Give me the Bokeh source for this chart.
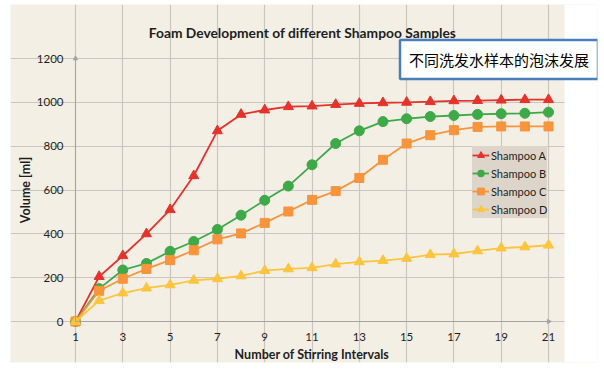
from bokeh.plotting import figure
from bokeh.models import Range1d, Legend, Label, BoxAnnotation, Arrow, NormalHead, FixedTicker
from bokeh.embed import file_html
from bokeh.resources import INLINE

intervals = list(range(1, 22))
shampoo_a = [0, 205, 300, 400, 510, 665, 870, 945, 965, 980, 983, 990, 995, 998, 1000, 1003, 1007, 1008, 1010, 1012, 1012]
shampoo_b = [0, 150, 235, 265, 320, 365, 420, 485, 553, 618, 715, 812, 870, 912, 925, 935, 940, 945, 948, 950, 955]
shampoo_c = [0, 140, 195, 240, 280, 325, 375, 402, 450, 502, 555, 595, 655, 738, 812, 850, 873, 888, 890, 890, 890]
shampoo_d = [0, 95, 130, 152, 167, 188, 195, 208, 232, 240, 245, 262, 272, 278, 288, 305, 308, 322, 335, 340, 348]
series_names = ["Shampoo A", "Shampoo B", "Shampoo C", "Shampoo D"]
x_ticks = [1, 3, 5, 7, 9, 11, 13, 15, 17, 19, 21]
y_ticks = [0, 200, 400, 600, 800, 1000, 1200]
title_text = "Foam Development of different Shampoo Samples"
note_text = "不同洗发水样本的泡沫发展"

colors = ["#E5322B", "#3EA948", "#F7943C", "#FDC43E"]
markers = ["triangle", "circle", "square", "triangle"]
sizes = [10, 10, 9, 10]
BG = "#F3EFE5"
FONT = "Lato"
INK = "#1E1E1E"
AXIS = "#A3A3A3"

# pixel layout of the reference
W, H = 604, 375
F_LEFT, F_RIGHT, F_TOP, F_BOTTOM = 10, 597, 4, 362      # frame (whole panel area)
PX_X1, PX_X21 = 75, 548                                 # x=1 and x=21
PX_Y0, PX_Y1200 = 321, 58                               # y=0 and y=1200
PANEL_RIGHT = 564

ux = (PX_X21 - PX_X1) / 20.0
uy = (PX_Y0 - PX_Y1200) / 1200.0
def dx(px): return 1 + (px - PX_X1) / ux
def dy(py): return (PX_Y0 - py) / uy

p = figure(width=W, height=H, min_border_left=F_LEFT, min_border_right=W - F_RIGHT,
           min_border_top=F_TOP, min_border_bottom=H - F_BOTTOM,
           x_range=Range1d(dx(F_LEFT), dx(F_RIGHT)), y_range=Range1d(dy(F_BOTTOM), dy(F_TOP)),
           output_backend="svg", toolbar_location=None,
           background_fill_color=BG, border_fill_color="white")
p.outline_line_color = None

# white strip right of the beige panel
p.add_layout(BoxAnnotation(left=dx(PANEL_RIGHT), right=dx(F_RIGHT + 5),
                           fill_color="white", fill_alpha=1, line_color=None, level="underlay"))

for ax in (p.xaxis[0], p.yaxis[0]):
    ax.axis_line_color = AXIS
    ax.major_tick_line_color = None
    ax.minor_tick_line_color = None
    ax.major_label_text_font = FONT
    ax.major_label_text_font_size = "11.5px"
    ax.major_label_text_color = INK
    ax.axis_label_text_font = FONT
    ax.axis_label_text_font_size = "12.5px"
    ax.axis_label_text_font_style = "bold"
    ax.axis_label_text_color = INK

p.xaxis.fixed_location = 0
p.yaxis.fixed_location = 1
p.xaxis.bounds = (1, 21)
p.yaxis.bounds = (0, 1200)
p.xaxis.ticker = FixedTicker(ticks=x_ticks)
p.yaxis.ticker = FixedTicker(ticks=y_ticks)
p.xaxis.axis_label = "Number of Stirring Intervals"
p.yaxis.axis_label = "Volume [ml]"
p.xaxis.major_label_standoff = 5
p.yaxis.major_label_standoff = 6
p.xaxis.axis_label_standoff = 3
p.yaxis.axis_label_standoff = 1

p.xgrid.bounds = (0, 1200)
p.ygrid.bounds = (1, 21)
p.grid.grid_line_color = "#CAC6BF"
p.grid.grid_line_width = 1.2

p.add_layout(Arrow(end=NormalHead(size=4, fill_color=AXIS, line_color=AXIS),
                   x_start=1, y_start=0, x_end=1, y_end=1212, line_color=AXIS))
p.add_layout(Arrow(end=NormalHead(size=4, fill_color=AXIS, line_color=AXIS),
                   x_start=1, y_start=0, x_end=21.12, y_end=0, line_color=AXIS))

items = []
all_series = [shampoo_a, shampoo_b, shampoo_c, shampoo_d]
for name, vals, c, m, s in zip(series_names, all_series, colors, markers, sizes):
    r1 = p.line(intervals, vals, line_color=c, line_width=1.8)
    r2 = p.scatter(intervals, vals, marker=m, size=s, fill_color=c, line_color=c)
    items.append((name, [r1, r2]))

legend = Legend(items=items, location=(472 - F_LEFT, F_BOTTOM - 218))
legend.background_fill_color = "#DDD5CA"
legend.background_fill_alpha = 1
legend.border_line_color = None
legend.label_text_font = FONT
legend.label_text_font_size = "11px"
legend.label_text_color = INK
legend.glyph_width = 17
legend.glyph_height = 18
legend.label_height = 18
legend.label_standoff = 2
legend.spacing = 0
legend.padding = 3
legend.margin = 0
p.add_layout(legend, "center")

p.add_layout(Label(x=dx(302), y=dy(32), text=title_text, text_font=FONT,
                   text_font_size="13.8px", text_font_style="bold", text_color=INK,
                   text_align="center", text_baseline="middle"))

p.add_layout(Label(x=dx(498.5), y=dy(59), text=note_text,
                   text_font="Noto Sans CJK SC", text_font_size="15px", text_color="black",
                   text_align="center", text_baseline="middle",
                   background_fill_color="white", border_line_color="#4A7EBB",
                   border_line_width=2.5, padding=9))

open("out.html", "w").write(file_html(p, INLINE))
